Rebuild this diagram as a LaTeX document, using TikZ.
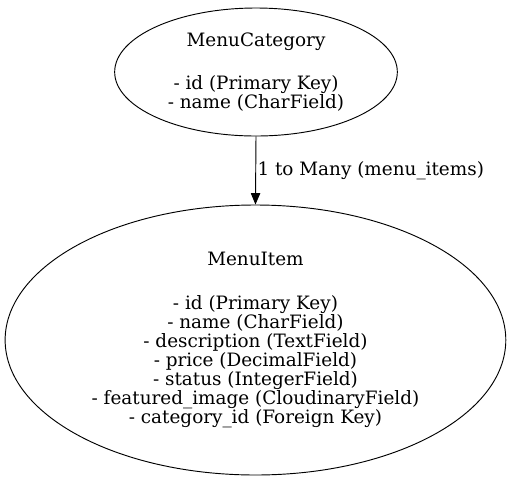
\documentclass[tikz,border=0pt]{standalone}
\usepackage{fontspec}
\setmainfont{DejaVu Serif}
\usetikzlibrary{shapes.geometric,arrows.meta}

\begin{document}
\begin{tikzpicture}[
		entity/.style={ellipse, draw, line width=0.7pt, inner sep=0pt, align=center,
			font=\fontsize{13.8pt}{14.2pt}\selectfont},
		relation/.style={-{Triangle[length=8.5pt,width=7pt]}, line width=0.7pt}
	]
		\useasboundingbox (0pt,0pt) rectangle (384pt,-360pt);

		\node[entity, minimum width=212pt, minimum height=96pt] (category) at (192pt,-54pt) {
			MenuCategory\\[18.5pt]
			- id (Primary Key)\\
			- name (CharField)
		};

		\node[entity, minimum width=375.5pt, minimum height=202.5pt] (item) at (191.6pt,-255pt) {
			MenuItem\\[18.5pt]
			- id (Primary Key)\\
			- name (CharField)\\
			- description (TextField)\\
			- price (DecimalField)\\
			- status (IntegerField)\\
			- featured\_image (CloudinaryField)\\
			- category\_id (Foreign Key)
		};

		\draw[relation] (category.south) -- (item.north)
			node[midway, right, inner sep=1pt, font=\fontsize{13.8pt}{14.2pt}\selectfont] (label) {1 to Many (menu\_items)};

\end{tikzpicture}
\end{document}
